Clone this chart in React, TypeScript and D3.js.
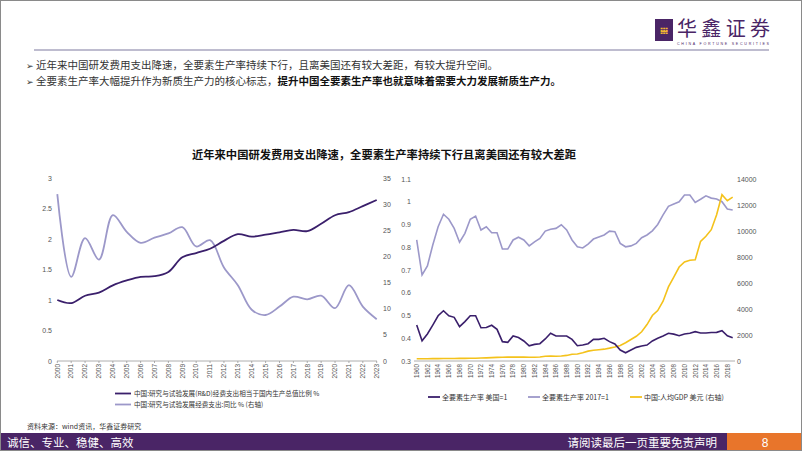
import React from "react";
import * as d3 from "d3";

// ---------- Data ----------
const leftYears = d3.range(2000, 2024);
const rdShareGdp = [1.0, 0.95, 1.07, 1.12, 1.24, 1.32, 1.38, 1.39, 1.46, 1.70, 1.77, 1.84, 1.97, 2.08, 2.04, 2.07, 2.11, 2.15, 2.13, 2.25, 2.39, 2.44, 2.54, 2.64];
const rdGrowth = [31.9, 16.1, 23.5, 19.4, 27.9, 24.7, 22.6, 23.6, 24.4, 25.6, 21.9, 23.1, 17.9, 14.5, 9.8, 8.8, 10.4, 12.3, 11.8, 12.5, 10.1, 14.5, 10.4, 8.0];
const leftTicksL = [0, 0.5, 1, 1.5, 2, 2.5, 3];
const leftTicksR = [0, 5, 10, 15, 20, 25, 30, 35];

const rightYears = d3.range(1960, 2020);
const tfpVsUS = [0.458, 0.389, 0.419, 0.458, 0.499, 0.521, 0.499, 0.492, 0.451, 0.473,
  0.499, 0.499, 0.446, 0.447, 0.457, 0.439, 0.385, 0.382, 0.41, 0.403,
  0.388, 0.367, 0.373, 0.376, 0.397, 0.422, 0.41, 0.41, 0.41, 0.395,
  0.367, 0.37, 0.376, 0.395, 0.395, 0.4, 0.385, 0.375, 0.348, 0.336,
  0.348, 0.36, 0.366, 0.37, 0.388, 0.4, 0.41, 0.422, 0.418, 0.411,
  0.419, 0.422, 0.429, 0.423, 0.423, 0.425, 0.426, 0.433, 0.411, 0.402];
const tfp2017 = [0.832, 0.678, 0.718, 0.81, 0.89, 0.945, 0.923, 0.883, 0.822, 0.861,
  0.923, 0.937, 0.876, 0.89, 0.864, 0.864, 0.792, 0.792, 0.832, 0.844,
  0.832, 0.806, 0.824, 0.839, 0.871, 0.879, 0.883, 0.899, 0.876, 0.832,
  0.802, 0.797, 0.814, 0.836, 0.845, 0.854, 0.871, 0.868, 0.817, 0.802,
  0.806, 0.817, 0.842, 0.854, 0.872, 0.9, 0.942, 0.98, 0.99, 1.0,
  1.03, 1.03, 0.997, 1.011, 1.026, 1.016, 1.012, 1.0, 0.968, 0.964];
const gdpPerCapita = [170, 175, 175, 180, 185, 190, 195, 195, 200, 205,
  210, 215, 225, 240, 260, 280, 290, 300, 300, 305,
  300, 290, 290, 310, 360, 380, 370, 390, 430, 520,
  540, 640, 760, 830, 870, 910, 990, 1080, 1200, 1400,
  1650, 1900, 2250, 2800, 3500, 3880, 4600, 5700, 6450, 7230,
  7620, 7750, 7780, 9200, 9600, 10100, 11250, 12790, 12330, 12610];
const rightTicksL = [0.3, 0.4, 0.5, 0.6, 0.7, 0.8, 0.9, 1.0, 1.1];
const rightTicksR = [0, 2000, 4000, 6000, 8000, 10000, 12000, 14000];

const leftLegend = ["中国:研究与试验发展(R&D)经费支出相当于国内生产总值比例 %", "中国:研究与试验发展经费支出:同比 % (右轴)"];
const rightLegend = ["全要素生产率 美国=1", "全要素生产率 2017=1", "中国:人均GDP 美元 (右轴)"];

const DARK = "#3a1f6b";
const LIGHT = "#9c98c9";
const YELLOW = "#f4c21b";
const PURPLE = "#4a2566";
const ORANGE = "#e8752b";
const CJK = "'Noto Sans CJK SC', 'Noto Sans', sans-serif";
const SANS = "'Liberation Sans', Arial, sans-serif";

export default function App() {
  // left chart scales
  const lx = d3.scaleLinear().domain([2000, 2023]).range([57.3, 376.7]);
  const ly = d3.scaleLinear().domain([0, 3]).range([361, 178]);
  const lyR = d3.scaleLinear().domain([0, 35]).range([361, 178]);
  const lineShare = d3.line<number>().x((_, i) => lx(leftYears[i])).y((d) => ly(d)).curve(d3.curveCatmullRom.alpha(0.5));
  const lineGrowth = d3.line<number>().x((_, i) => lx(leftYears[i])).y((d) => lyR(d)).curve(d3.curveCatmullRom.alpha(0.5));

  // right chart scales
  const rx = d3.scaleLinear().domain([1960, 2019]).range([416.7, 732.7]);
  const ry = d3.scaleLinear().domain([0.3, 1.1]).range([361, 179]);
  const ryR = d3.scaleLinear().domain([0, 14000]).range([361, 179]);
  const rLine = d3.line<number>().x((_, i) => rx(rightYears[i])).y((d) => ry(d));
  const rLineR = d3.line<number>().x((_, i) => rx(rightYears[i])).y((d) => ryR(d));

  return (
    <svg width={802} height={451} style={{ position: "absolute", left: 0, top: 0, background: "#fff" }}>
      <rect x={0} y={0} width={802} height={451} fill="#fff" />
      {/* Header */}
      <rect x={655} y={19} width={18} height={22} fill={PURPLE} />
      <text x={664} y={34} fontSize={9} fill="#f2b632" textAnchor="middle" fontFamily={SANS} fontWeight="bold">𝍐</text>
      <text x={677} y={36} fontSize={20} fill={PURPLE} fontFamily={CJK} textLength={93} lengthAdjust="spacing">华鑫证券</text>
      <text x={677} y={44.5} fontSize={3.6} fill={PURPLE} fontFamily={SANS} textLength={92}>CHINA FORTUNE SECURITIES</text>
      <line x1={34} x2={769} y1={50} y2={50} stroke="#a9a6bf" strokeWidth={1.5} />
      <text x={26} y={68.5} fontSize={10.5} fill="#333" fontFamily={CJK}>
        <tspan fontSize={8.5}>➢ </tspan>近年来中国研发费用支出降速，全要素生产率持续下行，且离美国还有较大差距，有较大提升空间。
      </text>
      <text x={26} y={85} fontSize={10.5} fill="#333" fontFamily={CJK}>
        <tspan fontSize={8.5}>➢ </tspan>全要素生产率大幅提升作为新质生产力的核心标志，<tspan fontWeight="bold" fill="#111">提升中国全要素生产率也就意味着需要大力发展新质生产力。</tspan>
      </text>

      {/* Title */}
      <text x={384} y={159} fontSize={11.3} fontWeight="bold" fill="#111" textAnchor="middle" fontFamily={CJK}>
        近年来中国研发费用支出降速，全要素生产率持续下行且离美国还有较大差距
      </text>

      {/* Left chart */}
      <g fontFamily={SANS} fontSize={7} fill="#555">
        {leftTicksL.map((t) => (
          <text key={"ll" + t} x={52} y={ly(t) + 2.5} textAnchor="end">{t}</text>
        ))}
        {leftTicksR.map((t) => (
          <text key={"lr" + t} x={383} y={lyR(t) + 2.5}>{t}</text>
        ))}
        <line x1={57} x2={377} y1={361} y2={361} stroke="#999" strokeWidth={0.8} />
        {leftYears.map((yr) => (
          <g key={"lt" + yr}>
            <line x1={lx(yr)} x2={lx(yr)} y1={361} y2={363} stroke="#999" strokeWidth={0.8} />
            <text transform={`translate(${lx(yr) + 2.3},${364}) rotate(-90)`} textAnchor="end" fontSize={6.5}>{yr}</text>
          </g>
        ))}
      </g>
      <path d={lineGrowth(rdGrowth) || ""} fill="none" stroke={LIGHT} strokeWidth={1.8} />
      <path d={lineShare(rdShareGdp) || ""} fill="none" stroke={DARK} strokeWidth={1.8} />
      {leftLegend.map((t, i) => (
        <g key={"lg" + i}>
          <line x1={115} x2={131} y1={393.5 + i * 11} y2={393.5 + i * 11} stroke={i === 0 ? DARK : LIGHT} strokeWidth={1.8} />
          <text x={134} y={396 + i * 11} fontSize={6.6} fill="#333" fontFamily={CJK}>{t}</text>
        </g>
      ))}

      {/* Right chart */}
      <g fontFamily={SANS} fontSize={7} fill="#555">
        {rightTicksL.map((t) => (
          <text key={"rl" + t} x={411} y={ry(t) + 2.5} textAnchor="end">{t === 1 ? "1" : t.toFixed(1)}</text>
        ))}
        {rightTicksR.map((t) => (
          <text key={"rr" + t} x={737} y={ryR(t) + 2.5}>{t}</text>
        ))}
        <line x1={414} x2={735} y1={361} y2={361} stroke="#999" strokeWidth={0.8} />
        {rightYears.filter((y) => y % 2 === 0).map((yr) => (
          <text key={"rt" + yr} transform={`translate(${rx(yr) + 2.3},${364}) rotate(-90)`} textAnchor="end" fontSize={6.3}>{yr}</text>
        ))}
      </g>
      <path d={rLine(tfp2017) || ""} fill="none" stroke={LIGHT} strokeWidth={1.6} />
      <path d={rLineR(gdpPerCapita) || ""} fill="none" stroke={YELLOW} strokeWidth={1.6} />
      <path d={rLine(tfpVsUS) || ""} fill="none" stroke={DARK} strokeWidth={1.6} />
      {rightLegend.map((t, i) => {
        const x0 = [428, 528, 630][i];
        return (
          <g key={"rg" + i}>
            <line x1={x0} x2={x0 + 12} y1={397} y2={397} stroke={[DARK, LIGHT, YELLOW][i]} strokeWidth={1.8} />
            <text x={x0 + 14} y={399.5} fontSize={7} fill="#333" fontFamily={CJK}>{t}</text>
          </g>
        );
      })}

      {/* Source */}
      <text x={27} y={429} fontSize={7} fill="#333" fontFamily={CJK}>资料来源：wind资讯，华鑫证券研究</text>

      {/* Footer */}
      <rect x={0} y={433} width={802} height={18} fill={PURPLE} />
      <rect x={727} y={433} width={75} height={18} fill={ORANGE} />
      <text x={7} y={446.5} fontSize={11.5} fill="#fff" fontFamily={CJK}>诚信、专业、稳健、高效</text>
      <text x={717} y={446.5} fontSize={11.5} fill="#fff" fontFamily={CJK} textAnchor="end">请阅读最后一页重要免责声明</text>
      <text x={765} y={446.5} fontSize={12} fill="#fff" fontFamily={SANS} textAnchor="middle">8</text>

      {/* Frame */}
      <rect x={0.5} y={0.5} width={801} height={450} fill="none" stroke="#8a8a8a" strokeWidth={1} />
    </svg>
  );
}
